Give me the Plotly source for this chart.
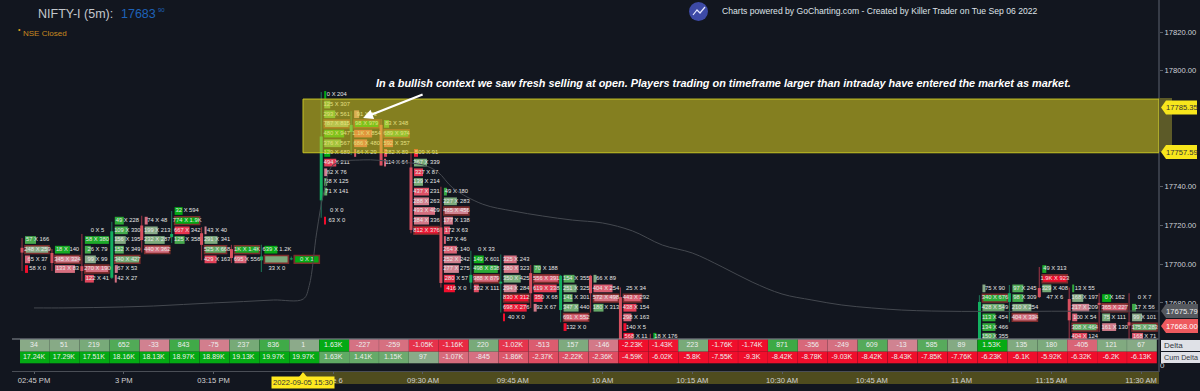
import plotly.graph_objects as go

# ---------- data ----------
tick_idx = [0, 3, 6, 10, 13, 16, 19, 22, 25, 28, 31, 34, 37]
tick_txt = ["02:45 PM", "3 PM", "03:15 PM", "Tue 6", "09:30 AM", "09:45 AM", "10 AM",
            "10:15 AM", "10:30 AM", "10:45 AM", "11 AM", "11:15 AM", "11:30 AM"]
price_ticks = [17820, 17800, 17780, 17760, 17740, 17720, 17700, 17680]

delta = [34, 51, 219, 652, -33, 843, -75, 237, 836, 1, 1630, -227, -259, -1050, -1160, 220, -1020, -513, 157,
         -146, -2230, -1430, 223, -1760, -1740, 871, -356, -249, 609, -13, 585, 89, 1530, 135, 180, -405, 121, 67]
cum_delta = [17240, 17290, 17510, 18160, 18130, 18970, 18890, 19130, 19970, 19970, 1630, 1410, 1150, 97, -1070,
             -845, -1860, -2370, -2220, -2360, -4590, -6020, -5800, -7550, -9300, -8420, -8780, -9030, -8420,
             -8430, -7850, -7760, -6230, -6100, -5920, -6320, -6200, -6130]

# candles: column index, open, close, high, low
c_idx = [0, 1, 2, 3, 4, 5, 6, 7, 8, 9, 10, 11, 12, 13, 14, 15, 16, 17, 18, 19, 20, 21, 32, 33, 34, 35, 36, 37]
c_open = [17708.5, 17705.8, 17699, 17693, 17720, 17714, 17716, 17707.8, 17702, 17702.5, 17733, 17768.3, 17772,
          17750, 17719, 17690.5, 17690, 17695.4, 17676.3, 17694, 17683, 17655, 17650, 17680.5, 17687.7, 17682,
          17680, 17670]
c_close = [17706, 17700.6, 17696.5, 17717, 17712.5, 17715.6, 17710, 17703.2, 17704, 17703, 17766, 17772, 17751,
           17717.7, 17690.3, 17694.5, 17691, 17685, 17694, 17685, 17660, 17645, 17680.5, 17685, 17683, 17671,
           17679, 17668.3]
c_high = [17713.5, 17707.8, 17715.6, 17722, 17725, 17727.5, 17719.2, 17710, 17710, 17704, 17789, 17779, 17775,
          17758, 17740, 17707, 17705, 17699.6, 17694.5, 17694.5, 17688, 17664, 17684, 17689.3, 17698.6, 17688,
          17685, 17685]
c_low = [17696.5, 17696.5, 17691.3, 17692.3, 17706, 17711, 17702, 17700.6, 17696, 17702, 17724, 17756.4, 17751,
         17716, 17688, 17687, 17675, 17677.4, 17670, 17675, 17655, 17640, 17640, 17670, 17682.5, 17660, 17665,
         17660]

# footprint cells, per column, going down from the top price in steps of 5 points
top_price = [17712.5, 17707.5, 17717.5, 17722.5, 17722.5, 17727.5, 17717.5, 17707.5, 17707.5, 17702.5, 17787.5,
             17777.5, 17772.5, 17757.5, 17737.5, 17707.5, 17702.5, 17697.5, 17692.5, 17692.5, 17687.5, 17662.5,
             None, None, None, None, None, None, None, None, None, None,
             17687.5, 17687.5, 17697.5, 17687.5, 17682.5, 17682.5]
bids = [[57, 248, 65, 58], [18, 345, 133], [0, 58, 26, 99, 270, 122], [49, 109, 156, 152, 340, 67, 42],
        [74, 199, 232, 440], [32, 774, 667, 125], [43, 291, 525, 429], [1000, 695], [639, None, 33], [0],
        [0, 125, 293, 787, 480, 376, 129, 494, 82, 58, 71, None, 0, 63], [91, 98, 1100, 686, 64],
        [83, 689, 592, 282, 114], [509, 267, 327, 139, 437, 288, 493, 384, 812],
        [49, 227, 465, 177, 172, 87, 264, 252, 277, 280, 416], [0, 149, 498, 988, 302],
        [325, 380, 350, 294, 830, 698, 40], [70, 556, 619, 350, 92], [154, 251, 141, 347, 691, 132],
        [66, 404, 572, 180], [25, 443, 438, 298, 140, 568], [18], [], [], [], [], [], [], [], [], [], [],
        [75, 340, 428, 113, 134, 150], [97, 98, 210, 404], [49, 1900, 329, 47], [13, 168, 217, 100, 308, 404],
        [0, 365, 75, 161], [0, 17, 99, 175, 168]]
asks = [[166, 259, 37, 0], [140, 324, 83], [5, 380, 79, 99, 190, 41], [228, 330, 195, 349, 427, 53, 27],
        [48, 213, 287, 362], [594, 1900, 342, 358], [40, 341, 668, 163], [1400, 556], [1200, None, 0], [1],
        [204, 307, 561, 815, 947, 567, 689, 211, 76, 125, 141, None, 0, 0], [73, 979, 854, 480, 29],
        [348, 974, 357, 89, 64], [91, 339, 87, 214, 231, 263, 409, 336, 376],
        [180, 283, 456, 138, 63, 46, 140, 242, 275, 57, 0], [33, 601, 838, 879, 111],
        [243, 323, 425, 284, 312, 276, 0], [188, 391, 338, 68, 67], [355, 325, 301, 440, 552, 0],
        [89, 254, 498, 313], [34, 292, 154, 163, 5, 11], [176], [], [], [], [], [], [], [], [], [], [],
        [90, 676, 549, 454, 466, 355], [245, 309, 254, 334], [313, 923, 408, 6], [55, 197, 209, 54, 464, 124],
        [162, 227, 111, 130], [7, 56, 101, 283, 71]]
vols = [[11, 24, 5, 3], [15, 25, 20], [0, 24, 6, 11, 24, 9], [9, 13, 11, 9, 25, 3, 2], [3, 13, 20, 25],
        [8, 25, 15, 10], [2, 13, 22, 12], [25, 12], [13, 24, 0], [25],
        [2, 6, 11, 25, 20, 17, 6, 12, 3, 3, 3, 0, 0, 1], [5, 25, 18, 13, 2], [5, 25, 9, 3, 2],
        [4, 13, 9, 9, 15, 15, 21, 15, 25], [3, 13, 25, 9, 6, 2, 13, 17, 15, 11, 11], [0, 10, 24, 25, 5],
        [13, 15, 17, 13, 25, 23, 1], [7, 25, 23, 9, 3], [11, 13, 9, 15, 25, 3], [3, 19, 25, 10],
        [0, 18, 13, 8, 3, 10], [3], [], [], [], [], [], [], [], [], [], [],
        [3, 25, 22, 13, 13, 13], [11, 11, 19, 25], [4, 25, 9, 0], [2, 11, 17, 5, 25, 15], [9, 25, 8, 14],
        [0, 4, 10, 25, 11]]
poc_row = [1, 1, 4, 4, 3, 1, 2, 0, 1, 0, 3, 1, 1, 8, 2, 3, 4, 1, 4, 2, 1, None, None, None, None, None, None,
           None, None, None, None, None, 1, 3, 1, 4, 1, 3]

vwap_x = [0, 1, 2, 3, 4, 5, 6, 7, 8, 9, 9.2, 9.45, 9.7, 10, 11, 12, 13, 13.5, 14, 15, 16, 17, 18, 19, 20, 21, 22,
          23, 24, 25, 26, 27, 28, 29, 30, 31, 32, 33, 34, 35, 36, 37, 37.6]
vwap_y = [17677.4, 17677.4, 17677.6, 17677.9, 17678.4, 17679.2, 17680, 17680.7, 17681.5, 17682, 17689, 17716.6,
          17738, 17751.3, 17753.9, 17753, 17751.3, 17747.6, 17739.4, 17731, 17727.5, 17724.9, 17722.8, 17721.3,
          17717.2, 17709.9, 17705.8, 17698.6, 17690.8, 17684.6, 17681.5, 17678.9, 17677.4, 17676.3, 17675.8,
          17675.6, 17675.6, 17675.6, 17675.7, 17675.7, 17675.8, 17675.79, 17675.79]
zone_low, zone_high = 17757.59, 17785.35
last_close, last_vwap = 17668.00, 17675.79

# ---------- geometry ----------
W, H = 1200, 391
PW, PH = 1159, 371        # plot area in pixels
PANEL = 339               # pixel row where the delta table starts
X0, STEP = 34.0, 29.92    # pixel of column 0, pixels per column
Y20, PX = 32.0, 1.935     # pixel of 17820, pixels per point
BG = "#12161f"
TXT = "Liberation Sans"


def pa_x(px):
    return px / PW


def pa_y(py):
    return (PH - py) / PH


def mix(a, b, t):
    t = max(0.0, min(1.0, t))
    return "rgb(%d,%d,%d)" % tuple(round(a[i] + (b[i] - a[i]) * t) for i in range(3))


G0, G1 = (140, 170, 138), (4, 170, 20)
R0, R1 = (208, 132, 146), (240, 14, 44)


def shade(sign, t):
    return mix(G0, G1, t) if sign >= 0 else mix(R0, R1, t)


def fmt(v):
    a = abs(v)
    if a >= 1000:
        s = ("%.2f" % (a / 1000)).rstrip("0").rstrip(".") + "K"
    else:
        s = str(a)
    return ("-" if v < 0 else "") + s


fig = go.Figure()

# wicks and bodies
for up, wick_col, body_col in [(True, "#1a6a50", "#12b060"), (False, "#8c3040", "#d85060")]:
    wx, wy, bx, by = [], [], [], []
    for i, o, c, h, l in zip(c_idx, c_open, c_close, c_high, c_low):
        if (c >= o) != up:
            continue
        xx = i - 0.4
        wx += [xx, xx, None]
        wy += [l, h, None]
        bx += [xx, xx, None]
        by += [o, c, None]
    fig.add_trace(go.Scatter(x=wx, y=wy, mode="lines", line=dict(color=wick_col, width=1.2),
                             hoverinfo="skip", showlegend=False))
    fig.add_trace(go.Scatter(x=bx, y=by, mode="lines", line=dict(color=body_col, width=3),
                             hoverinfo="skip", showlegend=False))

# footprint cells
cx, cy, cl, cc, lc, lw, tx, ty, tt = [], [], [], [], [], [], [], [], []
for col, top in enumerate(top_price):
    if top is None:
        continue
    for r, (b, a, v) in enumerate(zip(bids[col], asks[col], vols[col])):
        p = top - 5 * r
        if b is None:
            d, t = 1, 0.12
        else:
            d = a - b
            tot = max(a + b, 1)
            t = max(abs(d) / tot * 1.25 - 0.1, abs(d) / 480)
        cx.append(col)
        cy.append(p)
        cl.append(v / STEP)
        cc.append(shade(d, t))
        is_poc = poc_row[col] == r
        lc.append("#7c2c2c" if is_poc else "rgba(0,0,0,0)")
        lw.append(1.6 if is_poc else 0)
        if b is not None:
            tx.append(col + 0.12)
            ty.append(p)
            tt.append(fmt(b) + " X " + fmt(a))
fig.add_trace(go.Bar(orientation="h", y=cy, x=cl, base=[c - 0.3 for c in cx], width=4.0,
                     marker=dict(color=cc, line=dict(color=lc, width=lw)),
                     hoverinfo="skip", showlegend=False))
fig.add_trace(go.Scatter(x=tx, y=ty, mode="text", text=tt, textposition="middle center",
                         textfont=dict(family=TXT, size=5.8, color="#e6e6e6"),
                         hoverinfo="skip", showlegend=False))

# vwap
fig.add_trace(go.Scatter(x=vwap_x, y=vwap_y, mode="lines", line=dict(color="#44484f", width=1, shape="spline"),
                         hoverinfo="skip", showlegend=False))

# delta table
idx = list(range(len(delta)))
ROW1, ROW2 = 19.5, 7.5
d_col = [shade(v, abs(v) / 1500) for v in delta]
c_col = [shade(v, abs(v) / 5000) for v in cum_delta]
fig.add_trace(go.Bar(x=[i + 0.03 for i in idx], y=[12.4] * 38, base=[13.3] * 38, width=0.995, yaxis="y2",
                     marker=dict(color=d_col, line=dict(width=0)), hoverinfo="skip", showlegend=False))
fig.add_trace(go.Bar(x=[i + 0.03 for i in idx], y=[11.6] * 38, base=[1.7] * 38, width=0.995, yaxis="y2",
                     marker=dict(color=c_col, line=dict(width=0)), hoverinfo="skip", showlegend=False))
fig.add_trace(go.Scatter(x=idx, y=[ROW1] * 38, yaxis="y2", mode="text", text=[fmt(v) for v in delta],
                         textfont=dict(family=TXT, size=7, color="#eeeeee"), hoverinfo="skip", showlegend=False))
fig.add_trace(go.Scatter(x=idx, y=[ROW2] * 38, yaxis="y2", mode="text", text=[fmt(v) for v in cum_delta],
                         textfont=dict(family=TXT, size=7, color="#eeeeee"), hoverinfo="skip", showlegend=False))

shapes = [
    # olive time strip, separators, price axis line
    dict(type="rect", xref="paper", yref="paper", x0=pa_x(304), x1=1, y0=pa_y(372), y1=pa_y(384),
         fillcolor="#4f4c1e", line_width=0, layer="below"),
    dict(type="line", xref="paper", yref="paper", x0=pa_x(12), x1=1, y0=pa_y(339), y1=pa_y(339),
         line=dict(color="#8a9098", width=1)),
    dict(type="line", xref="paper", yref="paper", x0=pa_x(12), x1=1, y0=pa_y(371.5), y1=pa_y(371.5),
         line=dict(color="#4a4e56", width=1), layer="below"),
    dict(type="line", xref="paper", yref="paper", x0=1, x1=1, y0=pa_y(0), y1=pa_y(372),
         line=dict(color="#454a56", width=1.5)),
    # supply zone
    dict(type="rect", xref="x", yref="y", x0=(303 - X0) / STEP, x1=(PW - X0) / STEP, y0=zone_low, y1=zone_high,
         fillcolor="rgba(225,215,33,0.55)", line=dict(color="#c6c325", width=1), layer="above"),
    dict(type="rect", xref="paper", yref="paper", x0=1, x1=pa_x(1172), y0=pa_y(152), y1=pa_y(98),
         fillcolor="#5c5a28", line_width=0, layer="above"),
    # logo
    dict(type="circle", xref="paper", yref="paper", x0=pa_x(689), x1=pa_x(708), y0=pa_y(21), y1=pa_y(2),
         fillcolor="#3d4aa6", line_width=0),
    dict(type="path", xref="paper", yref="paper",
         path="M %f %f L %f %f L %f %f L %f %f" % (pa_x(693), pa_y(15), pa_x(697), pa_y(10), pa_x(700), pa_y(13),
                                                   pa_x(705), pa_y(7)),
         line=dict(color="#e6e8ff", width=1.2)),
    # table row captions
    dict(type="rect", xref="paper", yref="paper", x0=pa_x(1161), x1=pa_x(1200), y0=pa_y(351), y1=pa_y(340),
         fillcolor="#dfe1e7", line_width=0, layer="above"),
    dict(type="rect", xref="paper", yref="paper", x0=pa_x(1161), x1=pa_x(1200), y0=pa_y(363), y1=pa_y(352),
         fillcolor="#dfe1e7", line_width=0, layer="above"),
]


def tag(py, left, right, fill, label, fg):
    top, bot = py - 7, py + 7
    shapes.append(dict(type="path", xref="paper", yref="paper", fillcolor=fill, line_width=0, layer="above",
                       path="M %f %f L %f %f L %f %f L %f %f L %f %f Z" % (
                           pa_x(left), pa_y(py), pa_x(left + 5), pa_y(top), pa_x(right), pa_y(top),
                           pa_x(right), pa_y(bot), pa_x(left + 5), pa_y(bot))))
    return dict(xref="paper", yref="paper", x=pa_x((left + 5 + right) / 2), y=pa_y(py), text=label,
                showarrow=False, font=dict(family=TXT, size=7.6, color=fg), xanchor="center", yanchor="middle")


annots = [
    tag(107.5, 1161, 1197, "#f7e61c", "%.2f" % zone_high, "#333"),
    tag(152, 1161, 1197, "#f7e61c", "%.2f" % zone_low, "#333"),
    tag(311, 1161, 1198, "#55585e", "%.2f" % last_vwap, "#eeeeee"),
    tag(326, 1161, 1198, "#ee5a5e", "%.2f" % last_close, "#ffffff"),
]


def note(text, px, py, size, color, anchor="left", **kw):
    annots.append(dict(xref="paper", yref="paper", x=pa_x(px), y=pa_y(py), text=text, showarrow=False,
                       font=dict(family=kw.pop("family", TXT), size=size, color=color), xanchor=anchor,
                       yanchor="middle", **kw))


note("NIFTY-I (5m):", 36, 14.5, 12.5, "#c2c6cc")
note("17683", 119, 14.5, 12.5, "#1e62b8")
note("90", 156, 10, 6, "#1e62b8")
note("NSE Closed", 21, 33, 8, "#c98a20")
note("\u2022", 19, 29, 7, "#e0a020", anchor="center")
note("Charts powered by GoCharting.com - Created by Killer Trader on Tue Sep 06 2022", 720, 11, 8.6, "#dfe2e8")
note("<b><i>In a bullish context we saw fresh selling at open. Players trading on timeframe larger than intraday "
     "have entered the market as market.</i></b>", 723, 83, 10.9, "#ffffff", anchor="center")
note("Delta", 1162, 345.5, 8, "#333842")
note("Cum Delta", 1162, 357.5, 7.2, "#333842")

# cursor tag on the time axis
shapes.append(dict(type="path", xref="paper", yref="paper", fillcolor="#ffe81f", line_width=0, layer="above",
                   path="M %f %f L %f %f L %f %f Z" % (pa_x(299), pa_y(377), pa_x(303), pa_y(372), pa_x(307), pa_y(377))))
annots.append(dict(xref="paper", yref="paper", x=pa_x(303), y=pa_y(383), text="2022-09-05 15:30", showarrow=False,
                   font=dict(family=TXT, size=7.6, color="#333"), bgcolor="#ffe81f", xanchor="center",
                   yanchor="middle", borderpad=1))

# arrow
annots.append(dict(xref="x", yref="y", x=11.0, y=17775.6, ax=61, ay=-24, text="", showarrow=True,
                   arrowhead=2, arrowsize=0.9, arrowwidth=2.2, arrowcolor="#ffffff"))

fig.update_layout(
    width=W, height=H, margin=dict(l=0, r=W - PW, t=0, b=H - PH),
    paper_bgcolor=BG, plot_bgcolor=BG, barmode="overlay", showlegend=False,
    shapes=shapes, annotations=annots,
    xaxis=dict(range=[-X0 / STEP, (PW - X0) / STEP], anchor="y2", domain=[0, 1], showgrid=False, zeroline=False,
               showline=False, tickmode="array", tickvals=tick_idx, ticktext=tick_txt, ticks="outside", ticklen=2,
               tickcolor="#5a5e66", tickfont=dict(family=TXT, size=7.6, color="#d2d2d2")),
    yaxis=dict(domain=[(PH - PANEL) / PH, 1], anchor="x", side="right", showgrid=False, zeroline=False,
               range=[17820 - (PANEL - Y20) / PX, 17820 + Y20 / PX], tickmode="array", tickvals=price_ticks,
               ticktext=["%.2f" % p for p in price_ticks], ticks="outside", ticklen=3, tickcolor="#5a5e66",
               tickfont=dict(family=TXT, size=7.6, color="#cfd2d8")),
    yaxis2=dict(domain=[0, (PH - PANEL) / PH], anchor="x", side="right", showgrid=False, zeroline=False,
                range=[-6, 26], tickmode="array", tickvals=[0], ticktext=["0"], ticks="",
                tickfont=dict(family=TXT, size=8, color="#cfd2d8")),
)

fig.write_html("out.html", config={"displayModeBar": False},
               post_script="document.body.style.margin='0';document.body.style.background='%s';" % BG)
